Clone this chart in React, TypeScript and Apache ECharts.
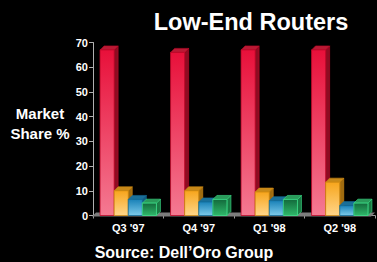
import React, { useEffect, useRef } from "react";
import * as echarts from "echarts";

const categories = ["Q3 '97", "Q4 '97", "Q1 '98", "Q2 '98"];
const redValues = [67, 66, 67, 67];
const yellowValues = [10, 10, 9.5, 13.5];
const blueValues = [6.5, 5.5, 6, 4];
const greenValues = [5, 6.5, 6.5, 5];
const yTicks = [0, 10, 20, 30, 40, 50, 60, 70];

const FONT = "'Liberation Sans', Arial, sans-serif";
const DEPTH = 4;

type Pal = { top: string; bottom: string; edge: string; cap: string; side: string };
const palettes: Pal[] = [
  { top: "#e8103a", bottom: "#f47a92", edge: "#c00828", cap: "#b81a34", side: "#8e0c22" },
  { top: "#f7a51c", bottom: "#ffd68a", edge: "#d08a10", cap: "#c88a1a", side: "#a06c10" },
  { top: "#1a82b8", bottom: "#7ccaea", edge: "#136c98", cap: "#1a6f98", side: "#135c80" },
  { top: "#136a3c", bottom: "#2fb86a", edge: "#3de08a", cap: "#2a9a5a", side: "#1b7a44" },
];

function makeRender(idx: number) {
  const p = palettes[idx];
  return (params: any, api: any) => {
    const cat = api.value(0);
    const val = api.value(1);
    const base = api.coord([cat, 0]);
    const top = api.coord([cat, val]);
    const catW = api.size([1, 0])[0];
    const bw = catW * 0.2;
    const x0 = base[0] - 2 * bw + idx * bw;
    const yt = top[1];
    const yb = base[1];
    return {
      type: "group",
      children: [
        {
          type: "polygon",
          shape: {
            points: [
              [x0 + bw, yt],
              [x0 + bw + DEPTH, yt - DEPTH],
              [x0 + bw + DEPTH, yb - DEPTH],
              [x0 + bw, yb],
            ],
          },
          style: { fill: p.side, stroke: p.edge, lineWidth: 0.6 },
        },
        {
          type: "polygon",
          shape: {
            points: [
              [x0, yt],
              [x0 + DEPTH, yt - DEPTH],
              [x0 + bw + DEPTH, yt - DEPTH],
              [x0 + bw, yt],
            ],
          },
          style: { fill: p.cap, stroke: p.edge, lineWidth: 0.6 },
        },
        {
          type: "rect",
          shape: { x: x0, y: yt, width: bw, height: yb - yt },
          style: {
            fill: new echarts.graphic.LinearGradient(0, 0, 0, 1, [
              { offset: 0, color: p.top },
              { offset: 1, color: p.bottom },
            ]),
            stroke: p.edge,
            lineWidth: 0.8,
          },
        },
      ],
    };
  };
}

function floorRender(params: any, api: any) {
  const cs = params.coordSys;
  const yb = cs.y + cs.height;
  return {
    type: "polygon",
    shape: {
      points: [
        [cs.x - 1, yb + 1],
        [cs.x + DEPTH - 1, yb - DEPTH + 1],
        [cs.x + cs.width, yb - DEPTH + 1],
        [cs.x + cs.width - DEPTH, yb + 1],
      ],
    },
    style: { fill: "#7c7c7c" },
  };
}

export default function App() {
  const ref = useRef<HTMLDivElement>(null);
  useEffect(() => {
    if (!ref.current) return;
    const chart = echarts.init(ref.current, undefined, { renderer: "svg" });
    const seriesVals = [redValues, yellowValues, blueValues, greenValues];
    const names = ["Vendor 1", "Vendor 2", "Vendor 3", "Vendor 4"];
    chart.setOption({
      animation: false,
      backgroundColor: "#000000",
      grid: { left: 93, right: 2, top: 42.5, bottom: 46.5 },
      xAxis: {
        type: "category",
        data: categories,
        axisLine: { show: true, lineStyle: { color: "#9a9a9a", width: 1 } },
        axisTick: { show: true, length: 3, lineStyle: { color: "#9a9a9a" } },
        axisLabel: {
          color: "#ffffff",
          fontFamily: FONT,
          fontWeight: "bold",
          fontSize: 11,
          margin: 7,
        },
      },
      yAxis: {
        type: "value",
        min: 0,
        max: 70,
        interval: 10,
        splitLine: { show: false },
        axisLine: { show: true, lineStyle: { color: "#b0b0b0", width: 1 } },
        axisTick: { show: true, length: 4, lineStyle: { color: "#b0b0b0" } },
        axisLabel: {
          color: "#ffffff",
          fontFamily: FONT,
          fontWeight: "bold",
          fontSize: 11,
          margin: 5,
          formatter: (v: number) => (yTicks.includes(v) ? String(v) : ""),
        },
      },
      series: [
        {
          type: "custom",
          name: "floor",
          renderItem: floorRender,
          data: [[0, 0]],
          silent: true,
          z: 1,
        },
        ...seriesVals.map((vals, i) => ({
          type: "custom",
          name: names[i],
          renderItem: makeRender(i),
          data: vals.map((v, j) => [j, v]),
          encode: { x: 0, y: 1 },
          z: 2,
        })),
      ],
      graphic: [
        {
          type: "text",
          x: 251,
          y: 22,
          style: {
            text: "Low-End Routers",
            fill: "#ffffff",
            font: `bold 23.5px ${FONT}`,
            textAlign: "center",
            textVerticalAlign: "middle",
          },
        },
        {
          type: "text",
          x: 40,
          y: 123,
          style: {
            text: "Market\nShare %",
            fill: "#ffffff",
            font: `bold 15px ${FONT}`,
            lineHeight: 20,
            textAlign: "center",
            textVerticalAlign: "middle",
          },
        },
        {
          type: "text",
          x: 184,
          y: 252,
          style: {
            text: "Source: Dell\u2019Oro Group",
            fill: "#ffffff",
            font: `bold 16px ${FONT}`,
            textAlign: "center",
            textVerticalAlign: "middle",
          },
        },
      ],
    });
    return () => chart.dispose();
  }, []);
  return (
    <div
      ref={ref}
      style={{ position: "fixed", left: 0, top: 0, width: 377, height: 262, background: "#000" }}
    />
  );
}
